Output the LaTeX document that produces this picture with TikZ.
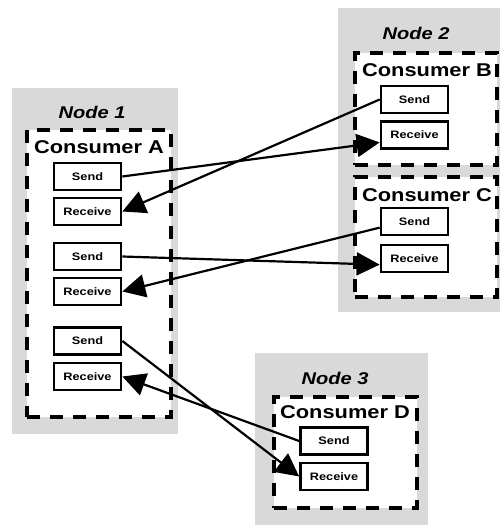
\documentclass[tikz,border=0pt]{standalone}
\usepackage{fontspec}
\newfontfamily\diagfont[FakeStretch=1.18]{Liberation Sans}
\usetikzlibrary{arrows.meta}
\tikzset{
  panel/.style={fill=gray!30, inner sep=0pt},
  consumer/.style={draw, fill=white, line width=4pt, dash pattern=on 13pt off 10pt, inner sep=0pt},
  port/.style={draw, fill=white, line width=2.7pt, minimum width=67pt, minimum height=27pt, inner sep=0pt,
    font=\diagfont\bfseries\fontsize{10.8}{12}\selectfont},
  hostlabel/.style={inner sep=0pt, font=\diagfont\bfseries\itshape\fontsize{17}{20}\selectfont},
  consumerlabel/.style={inner sep=0pt, font=\diagfont\bfseries\fontsize{18.5}{22}\selectfont},
  msg/.style={line width=2.2pt, -{Triangle[length=23pt,width=23pt]}}
}
\begin{document}
\begin{tikzpicture}[x=1pt,y=-1pt]
          \useasboundingbox (0,0) rectangle (501,529);
          % hosts
          \node[panel, minimum width=166pt, minimum height=346pt] at (95,261) (node1) {};
          \node[panel, minimum width=162pt, minimum height=304pt] at (419,160) (node2) {};
          \node[panel, minimum width=173pt, minimum height=172pt] at (341.5,439) (node3) {};
          \node[hostlabel] at (92,112) (node1label) {Node 1};
          \node[hostlabel] at (416,33) (node2label) {Node 2};
          \node[hostlabel] at (335,378) (node3label) {Node 3};
          % consumers
          \node[consumer, minimum width=144pt, minimum height=287pt] at (99,273.5) (consA) {};
          \node[consumer, minimum width=142pt, minimum height=112pt] at (426,109) (consB) {};
          \node[consumer, minimum width=142pt, minimum height=120pt] at (426,237) (consC) {};
          \node[consumer, minimum width=143pt, minimum height=111pt] at (345.5,452.5) (consD) {};
          \node[consumerlabel] at (99,147) (consAlabel) {Consumer A};
          \node[consumerlabel] at (427,70) (consBlabel) {Consumer B};
          \node[consumerlabel] at (427,195) (consClabel) {Consumer C};
          \node[consumerlabel] at (345,412) (consDlabel) {Consumer D};
          % send / receive
          \node[port] at (87.5,176.5) (sendA1) {Send};
          \node[port] at (87.5,211.5) (recvA1) {Receive};
          \node[port] at (87.5,256.5) (sendA2) {Send};
          \node[port] at (87.5,291.5) (recvA2) {Receive};
          \node[port] at (87.5,341) (sendA3) {Send};
          \node[port] at (87.5,376.5) (recvA3) {Receive};
          \node[port] at (414.5,99.5) (sendB) {Send};
          \node[port] at (414.5,135) (recvB) {Receive};
          \node[port] at (414.5,221.5) (sendC) {Send};
          \node[port] at (414.5,258.5) (recvC) {Receive};
          \node[port] at (334,441) (sendD) {Send};
          \node[port] at (334,476.5) (recvD) {Receive};
          % messages
          \path[msg] (sendA1.east) edge (recvB.192);
          \path[msg] (sendB.west) edge (recvA1.east);
          \path[msg] (sendA2.east) edge (recvC.190);
          \path[msg] (sendC.190) edge (recvA2.east);
          \path[msg] (sendA3.east) edge (recvD.west);
          \path[msg] (sendD.west) edge (recvA3.east);
        \end{tikzpicture}
\end{document}
